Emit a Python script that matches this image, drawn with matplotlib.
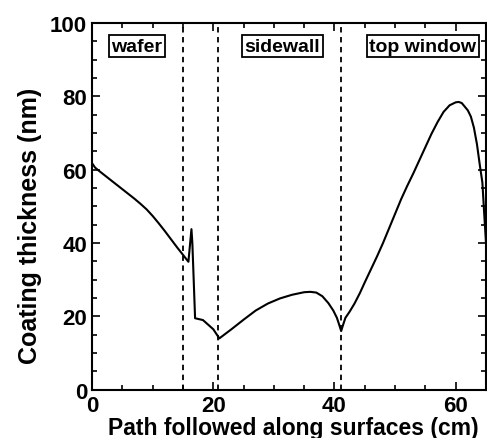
import numpy as np
import matplotlib.pyplot as plt
from matplotlib.ticker import MultipleLocator

plt.rcParams['font.family'] = ['Liberation Sans', 'DejaVu Sans']
plt.rcParams['font.weight'] = 'bold'

# path position (cm) and coating thickness (nm)
path_cm = [0, 0.5, 1, 2, 3, 4, 5, 6, 7, 8, 9, 10, 11, 12, 13, 14, 15, 15.9,
           16.4, 16.55, 17.0, 18.3, 20.0, 21.0,
           23, 25, 27, 29, 31, 33, 35, 36, 37, 38, 39, 39.8, 40.4, 40.8, 41.1,
           41.4, 41.8, 42.5, 43.3, 44.2, 45, 46, 47, 48, 49, 50, 51, 52, 53,
           54, 55, 56, 57, 58, 59, 60, 60.5, 61, 62, 62.5, 63, 63.5, 64, 64.4,
           64.7, 65]
thick_nm = [61.8, 60.6, 59.9, 58.6, 57.3, 56.0, 54.7, 53.4, 52.1, 50.7, 49.2,
            47.4, 45.4, 43.3, 41.1, 38.9, 36.8, 34.9,
            43.8, 40.0, 19.5, 19.0, 16.5, 14.0,
            16.5, 19.1, 21.6, 23.5, 24.9, 25.9, 26.6, 26.7, 26.5, 25.5, 23.6,
            21.6, 19.6, 17.6, 16.0, 17.6, 19.6, 21.3, 23.5, 26.4, 29.3, 32.8,
            36.3, 40.0, 44.0, 48.0, 52.0, 55.6, 59.0, 62.6, 66.2, 69.8, 73.0,
            75.8, 77.6, 78.4, 78.5, 78.2, 76.2, 74.5, 71.5, 67.0, 61.0, 56.5,
            48.0, 40.0]

boundaries = [15.0, 20.8, 41.1]
regions = ['wafer', 'sidewall', 'top window']
region_x = [7.4, 31.4, 54.6]

fig = plt.figure(figsize=(4.87, 4.39), dpi=100)
ax = fig.add_axes([0.189, 0.11, 0.809, 0.835])

ax.plot(path_cm, thick_nm, color='black', lw=1.5)
for b in boundaries:
    ax.axvline(b, color='black', lw=1.3, linestyle=(0, (3, 2.5)))

for name, xc in zip(regions, region_x):
    ax.text(xc, 93.7, name, ha='center', va='center', fontsize=14,
            fontweight='bold',
            bbox=dict(boxstyle='square,pad=0.12', fc='white', ec='black', lw=1.3))

ax.set_xlim(0, 65)
ax.set_ylim(0, 100)
ax.xaxis.set_major_locator(MultipleLocator(20))
ax.xaxis.set_minor_locator(MultipleLocator(5))
ax.yaxis.set_major_locator(MultipleLocator(20))
ax.yaxis.set_minor_locator(MultipleLocator(5))
ax.tick_params(which='both', direction='in', top=True, right=True, labelsize=16, width=1.2)
ax.tick_params(which='major', length=6)
ax.tick_params(which='minor', length=3.5)
for lab in ax.get_xticklabels() + ax.get_yticklabels():
    lab.set_fontweight('bold')
for s in ax.spines.values():
    s.set_linewidth(1.5)

ax.set_xlabel('Path followed along surfaces (cm)', fontsize=16.5, fontweight='bold', labelpad=0)
ax.set_ylabel('Coating thickness (nm)', fontsize=18, fontweight='bold', labelpad=6)
ax.xaxis.label.set_x(0.51)
ax.yaxis.label.set_y(0.45)

fig.savefig('out.png', dpi=100)
